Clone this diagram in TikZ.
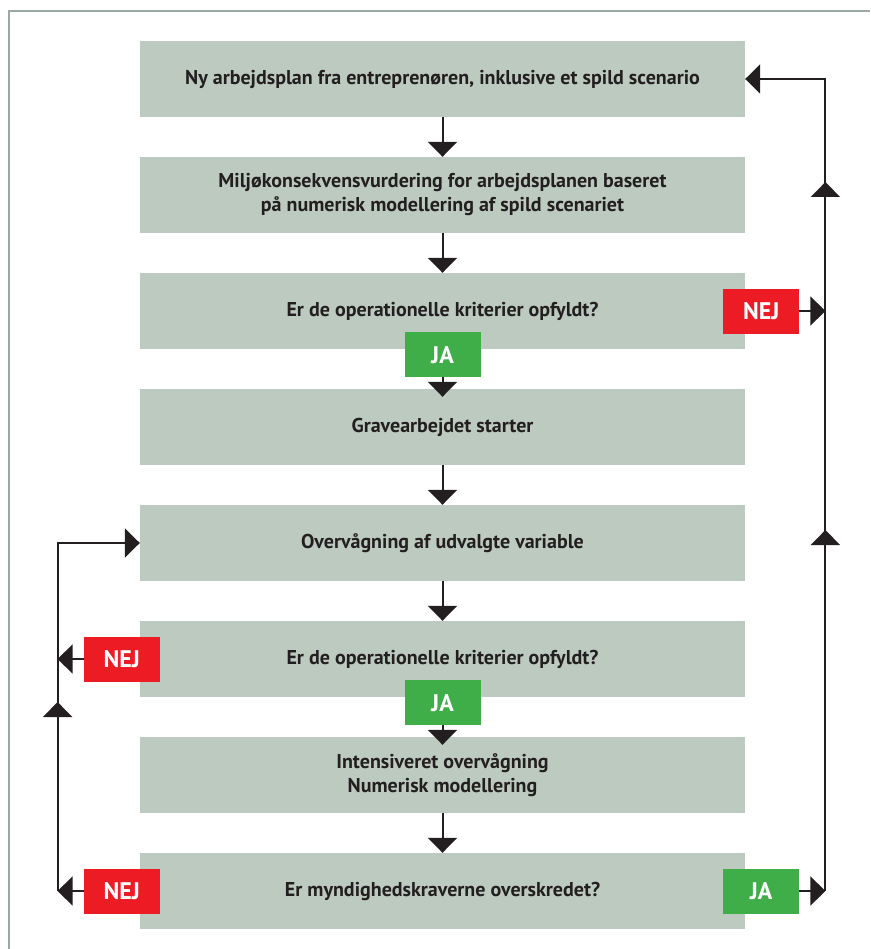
\documentclass[tikz,border=0pt]{standalone}
\usepackage{fontspec}
\setmainfont{PT Sans}
\usetikzlibrary{arrows.meta,positioning,decorations.markings}

\definecolor{boxgrey}{HTML}{BCCAC0}
\definecolor{nejred}{HTML}{ED1C24}
\definecolor{jagreen}{HTML}{3FAE49}
\definecolor{linedark}{HTML}{231F20}
\definecolor{framegrey}{HTML}{9AAAA2}

\tikzset{
  stage/.style={fill=boxgrey, text=linedark, minimum width=605pt, minimum height=76pt,
    inner sep=0pt, align=center, font=\bfseries\fontsize{20}{24}\selectfont},
  nej/.style={fill=nejred, text=white, minimum width=76pt, minimum height=45pt,
    inner sep=0pt, font=\bfseries\fontsize{24}{24}\selectfont},
  ja/.style={nej, fill=jagreen},
  bigtip/.tip={Triangle[width=29pt,length=15pt]},
  flow/.style={draw=linedark, line width=2pt, -bigtip},
  feed/.style={draw=linedark, line width=2pt},
}

\begin{document}
\begin{tikzpicture}[x=1pt,y=-1pt, node distance=39.6pt]
\useasboundingbox (0,0) rectangle (870,949);

% Frame
\draw[framegrey, line width=1.5pt] (9,949) -- (9,11) -- (870,11);

% Steps
\node[stage] (plan) at (442.5,79) {Ny arbejdsplan fra entreprenøren, inklusive et spild scenario};
\node[stage, below=of plan] (vurdering) {Miljøkonsekvensvurdering for arbejdsplanen baseret\\på numerisk modellering af spild scenariet};
\node[stage, below=of vurdering] (kriterie1) {Er de operationelle kriterier opfyldt?};
\node[stage, below=of kriterie1] (grave) {Gravearbejdet starter};
\node[stage, below=of grave] (overvaag) {Overvågning af udvalgte variable};
\node[stage, below=of overvaag] (kriterie2) {Er de operationelle kriterier opfyldt?};
\node[stage, below=of kriterie2] (intensiv) {Intensiveret overvågning\\Numerisk modellering};
\node[stage, below=of intensiv] (myndighed) {Er myndighedskraverne overskredet?};

% Answers
\node[ja] (jaA) at ([yshift=-5.5pt]kriterie1.south) {JA};
\node[nej] (nejA) at ([xshift=16pt]kriterie1.east) {NEJ};
\node[ja] (jaB) at ([yshift=-5.5pt]kriterie2.south) {JA};
\node[nej] (nejB) at ([xshift=-18pt]kriterie2.west) {NEJ};
\node[nej] (nejC) at ([xshift=-18pt]myndighed.west) {NEJ};
\node[ja] (jaC) at ([xshift=16pt]myndighed.east) {JA};

% Main flow
\draw[flow] (plan) -- (vurdering);
\draw[flow] (vurdering) -- (kriterie1);
\draw[flow, shorten >=-8pt] (jaA) -- (grave);
\draw[flow] (grave) -- (overvaag);
\draw[flow] (overvaag) -- (kriterie2);
\draw[flow, shorten >=-8pt] (jaB) -- (intensiv);
\draw[flow] (intensiv) -- (myndighed);

% Right loop
\coordinate (rbot) at ([xshift=26pt]jaC.east);
\coordinate (rtop) at (rbot |- plan.east);
\draw[flow] (jaC.east) -- (rbot);
\draw[flow] (nejA.east) -- (nejA.east -| rbot);
\draw[flow, postaction={decorate}, decoration={markings,
    mark=at position 361pt with {\arrow{bigtip}},
    mark=at position 709pt with {\arrow{bigtip}}}]
  (rbot) -- (rtop) -- (plan.east);

% Left loop
\coordinate (lbot) at ([xshift=-26pt]nejC.west);
\coordinate (ltop) at (lbot |- overvaag.west);
\draw[flow] (nejC.west) -- (lbot);
\draw[flow] (nejB.west) -- (nejB.west -| lbot);
\draw[flow, postaction={decorate}, decoration={markings,
    mark=at position 189pt with {\arrow{bigtip}}}]
  (lbot) -- (ltop) -- (overvaag.west);

\end{tikzpicture}
\end{document}
